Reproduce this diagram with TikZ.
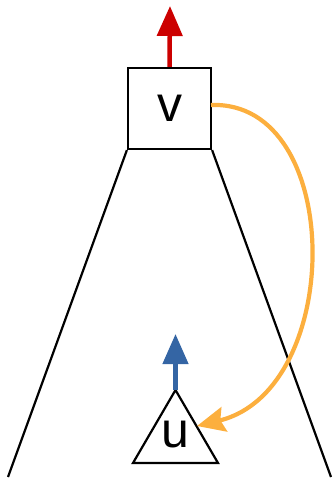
\documentclass[tikz,border=0pt]{standalone}
\usepackage{fontspec}
\setmainfont{Liberation Sans}
\usetikzlibrary{arrows.meta}
\definecolor{redarrow}{HTML}{CC0000}
\definecolor{bluearrow}{HTML}{3465A4}
\definecolor{orangearrow}{HTML}{FCAF3E}
\begin{document}
\begin{tikzpicture}[x=1pt,y=-1pt,
  boxnode/.style={draw,line width=2.2pt,minimum width=83pt,minimum height=81pt,inner sep=0pt,font=\fontsize{50}{54}\selectfont},
  labelnode/.style={inner sep=0pt,font=\fontsize{50}{54}\selectfont},
  treeline/.style={line width=2.2pt},
  uparrow/.style={line width=4.5pt,-{Triangle[length=30pt,width=25pt]}},
  curvearrow/.style={line width=4.2pt,orangearrow,-{Stealth[length=28pt,width=25pt,inset=4pt]}}]
\useasboundingbox (0,0) rectangle (334,480);
\node[boxnode] (v) at (169.5,108.5) {v};
\coordinate (vtop) at (170,6);
\coordinate (leftend) at (8,477);
\coordinate (rightend) at (331,477);
\coordinate (uapex) at (175.5,390);
\coordinate (ubl) at (133,463);
\coordinate (ubr) at (218,463);
\coordinate (utop) at (175.5,334);
\coordinate (uin) at (197,426);
\draw[treeline] (v.south west) -- (leftend);
\draw[treeline] (v.south east) -- (rightend);
\draw[treeline,fill=white] (uapex) -- (ubr) -- (ubl) -- cycle;
\node[labelnode] (u) at (175.5,435) {u};
\draw[uparrow,redarrow] (v.north) -- (vtop);
\draw[uparrow,bluearrow] (uapex) -- (utop);
\draw[curvearrow] (211,105) .. controls (345,100) and (345,390) .. (uin);
\end{tikzpicture}
\end{document}
